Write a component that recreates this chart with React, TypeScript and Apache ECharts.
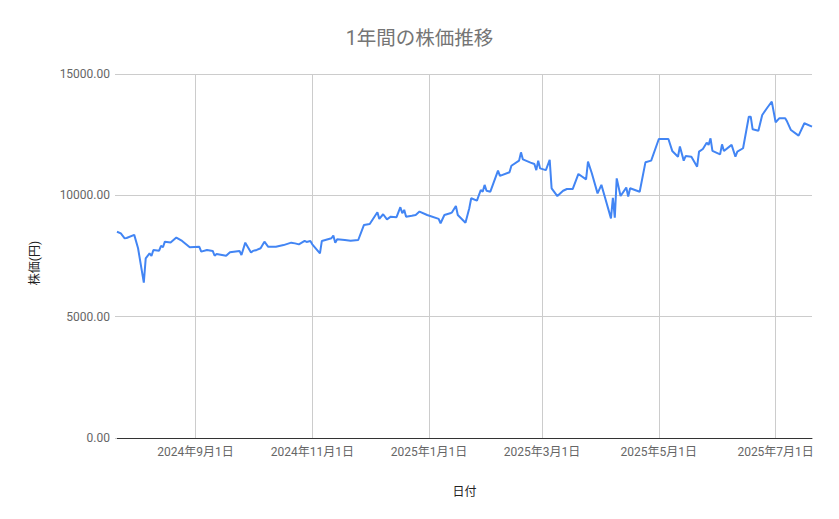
import { useEffect, useRef } from "react";
import * as echarts from "echarts";

type EChartsOption = echarts.EChartsOption;

// 日付と株価（円）
const dates = [
  "2024-07-22", "2024-07-24", "2024-07-26", "2024-07-27", "2024-07-31",
  "2024-08-02", "2024-08-05", "2024-08-06", "2024-08-08", "2024-08-09",
  "2024-08-10", "2024-08-13", "2024-08-14", "2024-08-15", "2024-08-16",
  "2024-08-19", "2024-08-22", "2024-08-25", "2024-08-29", "2024-09-03",
  "2024-09-04", "2024-09-07", "2024-09-10", "2024-09-11", "2024-09-12",
  "2024-09-17", "2024-09-19", "2024-09-24", "2024-09-25", "2024-09-27",
  "2024-09-30", "2024-10-01", "2024-10-03", "2024-10-05", "2024-10-07",
  "2024-10-09", "2024-10-13", "2024-10-17", "2024-10-21", "2024-10-23",
  "2024-10-25", "2024-10-28", "2024-10-29", "2024-10-31", "2024-11-01",
  "2024-11-05", "2024-11-06", "2024-11-11", "2024-11-12", "2024-11-13",
  "2024-11-14", "2024-11-18", "2024-11-21", "2024-11-25", "2024-11-28",
  "2024-12-01", "2024-12-05", "2024-12-06", "2024-12-08", "2024-12-10",
  "2024-12-12", "2024-12-15", "2024-12-17", "2024-12-18", "2024-12-19",
  "2024-12-20", "2024-12-23", "2024-12-25", "2024-12-27", "2024-12-31",
  "2025-01-06", "2025-01-07", "2025-01-09", "2025-01-12", "2025-01-13",
  "2025-01-15", "2025-01-16", "2025-01-20", "2025-01-22", "2025-01-23",
  "2025-01-26", "2025-01-28", "2025-01-29", "2025-01-30", "2025-01-31",
  "2025-02-02", "2025-02-06", "2025-02-07", "2025-02-12", "2025-02-13",
  "2025-02-17", "2025-02-18", "2025-02-19", "2025-02-23", "2025-02-25",
  "2025-02-26", "2025-02-27", "2025-02-28", "2025-03-03", "2025-03-05",
  "2025-03-06", "2025-03-09", "2025-03-12", "2025-03-14", "2025-03-17",
  "2025-03-20", "2025-03-24", "2025-03-25", "2025-03-27", "2025-03-30",
  "2025-04-01", "2025-04-03", "2025-04-06", "2025-04-07", "2025-04-08",
  "2025-04-09", "2025-04-11", "2025-04-14", "2025-04-15", "2025-04-16",
  "2025-04-21", "2025-04-24", "2025-04-27", "2025-05-01", "2025-05-06",
  "2025-05-08", "2025-05-11", "2025-05-12", "2025-05-14", "2025-05-15",
  "2025-05-18", "2025-05-21", "2025-05-22", "2025-05-24", "2025-05-26",
  "2025-05-27", "2025-05-28", "2025-05-29", "2025-06-02", "2025-06-03",
  "2025-06-04", "2025-06-08", "2025-06-10", "2025-06-11", "2025-06-14",
  "2025-06-17", "2025-06-18", "2025-06-19", "2025-06-22", "2025-06-24",
  "2025-06-27", "2025-06-29", "2025-07-01", "2025-07-03", "2025-07-06",
  "2025-07-07", "2025-07-09", "2025-07-13", "2025-07-16", "2025-07-20",
];

const prices = [
  8500, 8430, 8230, 8240, 8370,
  7820, 6400, 7400, 7610, 7500,
  7750, 7720, 7920, 7860, 8090,
  8060, 8260, 8120, 7860, 7880,
  7680, 7750, 7710, 7510, 7580,
  7510, 7650, 7710, 7540, 8050,
  7640, 7710, 7750, 7820, 8090,
  7880, 7880, 7950, 8050, 8020,
  7980, 8120, 8080, 8120, 7980,
  7610, 8120, 8230, 8340, 8050,
  8190, 8160, 8130, 8160, 8780,
  8820, 9300, 9030, 9220, 9010,
  9120, 9100, 9510, 9260, 9400,
  9120, 9160, 9190, 9330, 9190,
  9030, 8850, 9190, 9260, 9300,
  9560, 9190, 8870, 9470, 9880,
  9780, 10220, 10150, 10430, 10190,
  10150, 11020, 10800, 10950, 11220,
  11430, 11770, 11480, 11350, 11290,
  11040, 11430, 11110, 11040, 11460,
  10290, 9970, 10190, 10260, 10260,
  10880, 10660, 11390, 10910, 10080,
  10430, 9880, 9050, 9900, 9080,
  10700, 9970, 10320, 9950, 10290,
  10150, 11360, 11430, 12320, 12320,
  11830, 11590, 12010, 11430, 11620,
  11590, 11180, 11800, 11910, 12170,
  12080, 12350, 11830, 11690, 12100,
  11830, 12080, 11590, 11800, 11940,
  13240, 13240, 12720, 12660, 13310,
  13650, 13860, 13010, 13180, 13180,
  13040, 12690, 12460, 12970, 12830,
];

// 目盛り（2か月ごと）
const tickDates = [
  "2024-09-01", "2024-11-01", "2025-01-01",
  "2025-03-01", "2025-05-01", "2025-07-01",
];

const xMin = "2024-07-22";
const xMax = "2025-07-20";

const FONT = "Roboto, 'Noto Sans CJK JP', sans-serif";

const toTime = (d: string) => +echarts.time.parse(d);

export default function App() {
  const chartRef = useRef<HTMLDivElement>(null);

  useEffect(() => {
    if (!chartRef.current) return;
    document.body.style.margin = "0";

    const chart = echarts.init(chartRef.current, null, { renderer: "svg" });

    const tickValues = tickDates.map(toTime);

    const option: EChartsOption = {
      animation: false,
      backgroundColor: "#ffffff",
      textStyle: { fontFamily: FONT },
      title: {
        text: "1年間の株価推移",
        left: "center",
        top: 24,
        textStyle: {
          fontFamily: FONT,
          fontSize: 19.5,
          fontWeight: "normal",
          color: "#757575",
        },
      },
      grid: {
        left: 117,
        right: 27,
        top: 74,
        bottom: 81,
      },
      xAxis: {
        type: "value",
        min: toTime(xMin),
        max: toTime(xMax),
        name: "日付",
        nameLocation: "middle",
        nameGap: 48,
        nameTextStyle: { fontFamily: FONT, fontSize: 12, color: "#222222" },
        axisLine: { show: true, onZero: false, lineStyle: { color: "#333333", width: 1 } },
        axisTick: { show: false, customValues: tickValues },
        axisLabel: {
          customValues: tickValues,
          margin: 8,
          fontFamily: FONT,
          fontSize: 12,
          color: "#666666",
          formatter: (value: number) => {
            const d = new Date(value);
            return `${d.getFullYear()}年${d.getMonth() + 1}月${d.getDate()}日`;
          },
        },
        splitLine: { show: true, lineStyle: { color: "#cccccc", width: 1 } },
      },
      yAxis: {
        type: "value",
        min: 0,
        max: 15000,
        interval: 5000,
        axisLine: { show: false },
        axisTick: { show: true, length: 2, lineStyle: { color: "#cccccc" } },
        axisLabel: {
          margin: 7,
          fontFamily: FONT,
          fontSize: 12,
          color: "#666666",
          formatter: (value: number) => value.toFixed(2),
        },
        splitLine: { show: true, lineStyle: { color: "#cccccc", width: 1 } },
      },
      graphic: [
        {
          type: "text",
          x: 35,
          y: 263,
          rotation: Math.PI / 2,
          style: {
            text: "株価(円)",
            fontFamily: FONT,
            fontSize: 12,
            fill: "#222222",
            textAlign: "center",
            textVerticalAlign: "middle",
          },
        },
      ],
      series: [
        {
          name: "株価",
          type: "line",
          data: dates.map((d, i) => [toTime(d), prices[i]]),
          showSymbol: false,
          symbol: "none",
          lineStyle: { color: "#4285f4", width: 2 },
          itemStyle: { color: "#4285f4" },
          z: 3,
        },
      ],
    };

    chart.setOption(option);

    return () => {
      chart.dispose();
    };
  }, []);

  return <div ref={chartRef} style={{ width: 839, height: 519 }} />;
}
